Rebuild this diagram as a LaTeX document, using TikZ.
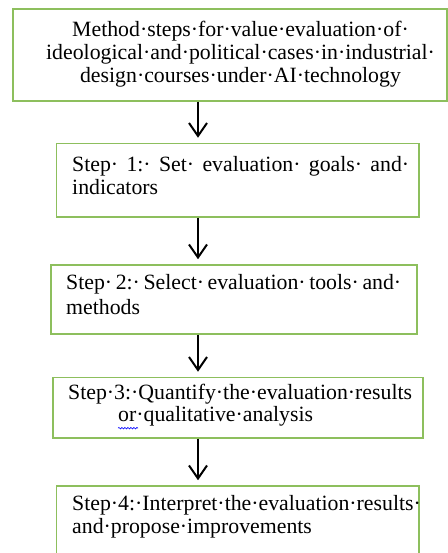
\documentclass[tikz,border=0pt]{standalone}
\usepackage{fontspec}
\setmainfont{Liberation Serif}
\usetikzlibrary{arrows.meta,decorations.pathmorphing}
\definecolor{boxgreen}{RGB}{141,191,93}
\begin{document}
\begin{tikzpicture}[x=1bp,y=1bp,
  box/.style={draw=boxgreen, line width=1.5bp, inner sep=0pt},
  txt/.style={inner sep=0pt, anchor=base west, font=\fontsize{21.8bp}{24bp}\selectfont},
  ctxt/.style={txt, anchor=base},
  flow/.style={line width=2bp, -{Straight Barb[length=13bp,width=18bp]}, shorten >=5bp},
  spell/.style={blue, line width=0.6bp, decorate, decoration={snake, amplitude=0.8bp, segment length=3bp}}]
\useasboundingbox (0,0) rectangle (448,553);
% boxes
\node[box, minimum width=434bp, minimum height=92bp] (b0) at (230,498) {};
\node[box, minimum width=362.5bp, minimum height=73.5bp] (b1) at (237.75,372.75) {};
\node[box, minimum width=366bp, minimum height=69bp] (b2) at (234,253.5) {};
\node[box, minimum width=370bp, minimum height=60.5bp] (b3) at (238,145.25) {};
\node[box, minimum width=362.5bp, minimum height=77bp] (b4) at (237.75,28.5) {};
% texts
\node[ctxt] (t0a) at (240.5,516.3) {Method·steps·for·value·evaluation·of·};
\node[ctxt] (t0b) at (240.5,493) {ideological·and·political·cases·in·industrial·};
\node[ctxt] (t0c) at (240.5,470) {design·courses·under·AI·technology};
\node[txt] (t1a) at (72,381.3) {\makebox[337bp][l]{Step·\hfill 1:·\hfill Set·\hfill evaluation·\hfill goals·\hfill and·}};
\node[txt] (t1b) at (72,358) {indicators};
\node[txt] (t2a) at (66,263) {\makebox[335bp][l]{Step·\hfill 2:·\hfill Select·\hfill evaluation·\hfill tools·\hfill and·}};
\node[txt] (t2b) at (66,238) {methods};
\node[txt] (t3a) at (68,153) {Step·3:·Quantify·the·evaluation·results};
\node[txt] (t3b) at (118,131.3) {or·qualitative·analysis};
\node[txt] (t4a) at (72,42.3) {Step·4:·Interpret·the·evaluation·results·};
\node[txt] (t4b) at (72,19) {and·propose·improvements};
\draw[spell] ([yshift=-6.5bp]t3b.base west) -- ++(20,0);
% connectors
\coordinate (ax) at (198,0);
\draw[flow] (b0.south -| ax) -- (b1.north -| ax);
\draw[flow] (b1.south -| ax) -- (b2.north -| ax);
\draw[flow] (b2.south -| ax) -- (b3.north -| ax);
\draw[flow] (b3.south -| ax) -- (b4.north -| ax);
\end{tikzpicture}
\end{document}
